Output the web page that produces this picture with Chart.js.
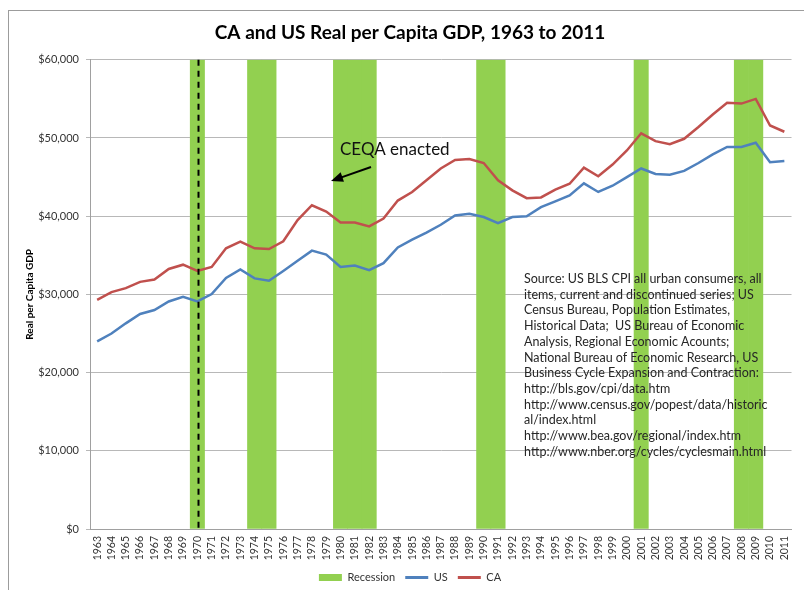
<!DOCTYPE html>
<html>
<head>
<meta charset="utf-8">
<script src="https://cdn.jsdelivr.net/npm/chart.js@4.4.1/dist/chart.umd.min.js"></script>
<style>
  html, body { margin: 0; padding: 0; background: #fff; }
</style>
</head>
<body>
<canvas id="gdp_chart" width="804" height="590"></canvas>
<script>
var years = ['1963','1964','1965','1966','1967','1968','1969','1970','1971','1972',
  '1973','1974','1975','1976','1977','1978','1979','1980','1981','1982','1983',
  '1984','1985','1986','1987','1988','1989','1990','1991','1992','1993','1994',
  '1995','1996','1997','1998','1999','2000','2001','2002','2003','2004','2005',
  '2006','2007','2008','2009','2010','2011'];

var usGdp = [24000, 25000, 26300, 27500, 28000, 29100, 29700, 29100, 30050, 32100,
  33200, 32050, 31750, 33000, 34300, 35600, 35100, 33500, 33700, 33100, 34000,
  36000, 37000, 37900, 38900, 40100, 40300, 39900, 39100, 39900, 40000, 41150,
  41900, 42650, 44200, 43100, 43900, 45000, 46100, 45400, 45300, 45800, 46800,
  47900, 48850, 48850, 49400, 46900, 47050];

var caGdp = [29300, 30300, 30800, 31600, 31900, 33250, 33800, 33000, 33500, 35900,
  36750, 35900, 35800, 36800, 39500, 41400, 40600, 39200, 39200, 38700, 39700,
  42000, 43100, 44600, 46100, 47200, 47300, 46800, 44600, 43300, 42300, 42400,
  43400, 44150, 46200, 45100, 46600, 48400, 50600, 49600, 49200, 49900, 51400,
  53000, 54500, 54400, 55000, 51600, 50800];

// recession years span the full height of the axis
var recessionYears = ['1970','1974','1975','1980','1981','1982','1990','1991','2001','2008','2009'];
var recessionTop = 60000;
var recession = years.map(function (y) {
  return recessionYears.indexOf(y) >= 0 ? recessionTop : null;
});

var ceqaYear = '1970';

var sourceLines = [
  'Source: US BLS CPI all urban consumers, all',
  'items, current and discontinued series; US',
  'Census Bureau, Population Estimates,',
  'Historical Data;  US Bureau of Economic',
  'Analysis, Regional Economic Acounts;',
  'National Bureau of Economic Research, US',
  'Business Cycle Expansion and Contraction:',
  'http://bls.gov/cpi/data.htm',
  'http://www.census.gov/popest/data/historic',
  'al/index.html',
  'http://www.bea.gov/regional/index.htm',
  'http://www.nber.org/cycles/cyclesmain.html'
];

var FONT = 'Lato, "Open Sans", sans-serif';

var framePlugin = {
  id: 'frame',
  beforeDraw: function (chart) {
    var ctx = chart.ctx;
    ctx.save();
    ctx.fillStyle = '#fff';
    ctx.fillRect(0, 0, chart.width, chart.height);
    ctx.strokeStyle = '#9c9c9c';
    ctx.lineWidth = 1;
    ctx.strokeRect(8.5, 10.5, chart.width + 20, chart.height + 20);
    ctx.restore();
  }
};

var notesPlugin = {
  id: 'notes',
  afterDraw: function (chart) {
    var ctx = chart.ctx, area = chart.chartArea;
    var xs = chart.scales.x;
    ctx.save();

    // CEQA dashed marker
    var px = Math.round(xs.getPixelForValue(years.indexOf(ceqaYear))) + 1.5;
    ctx.strokeStyle = '#000';
    ctx.lineWidth = 2;
    ctx.setLineDash([6, 5]);
    ctx.beginPath();
    ctx.moveTo(px, area.top);
    ctx.lineTo(px, area.bottom);
    ctx.stroke();
    ctx.setLineDash([]);

    // annotation
    ctx.fillStyle = '#111';
    ctx.font = '17px ' + FONT;
    ctx.textBaseline = 'middle';
    ctx.fillText('CEQA enacted', 340, 150);

    var x1 = 371, y1 = 167, x2 = 331, y2 = 181;
    var ang = Math.atan2(y2 - y1, x2 - x1);
    ctx.strokeStyle = '#000';
    ctx.lineWidth = 2;
    ctx.beginPath();
    ctx.moveTo(x1, y1);
    ctx.lineTo(x2 - 8 * Math.cos(ang), y2 - 8 * Math.sin(ang));
    ctx.stroke();
    ctx.beginPath();
    ctx.moveTo(x2, y2);
    ctx.lineTo(x2 - 12 * Math.cos(ang) + 5 * Math.sin(ang), y2 - 12 * Math.sin(ang) - 5 * Math.cos(ang));
    ctx.lineTo(x2 - 12 * Math.cos(ang) - 5 * Math.sin(ang), y2 - 12 * Math.sin(ang) + 5 * Math.cos(ang));
    ctx.closePath();
    ctx.fillStyle = '#000';
    ctx.fill();

    // source block
    ctx.fillStyle = '#262626';
    ctx.font = '12.5px ' + FONT;
    ctx.textBaseline = 'middle';
    for (var i = 0; i < sourceLines.length; i++) {
      ctx.fillText(sourceLines[i], 524, 279 + i * 15.7);
    }
    ctx.restore();
  }
};

new Chart(document.getElementById('gdp_chart'), {
  data: {
    labels: years,
    datasets: [{
      type: 'bar',
      label: 'Recession',
      data: recession,
      backgroundColor: '#92d050',
      borderWidth: 0,
      barPercentage: 1,
      categoryPercentage: 1,
      order: 2
    }, {
      type: 'line',
      label: 'US',
      data: usGdp,
      borderColor: '#4f81bd',
      backgroundColor: '#4f81bd',
      borderWidth: 2.5,
      pointRadius: 0,
      tension: 0,
      order: 1
    }, {
      type: 'line',
      label: 'CA',
      data: caGdp,
      borderColor: '#c0504d',
      backgroundColor: '#c0504d',
      borderWidth: 2.5,
      pointRadius: 0,
      tension: 0,
      order: 0
    }]
  },
  options: {
    responsive: false,
    animation: false,
    devicePixelRatio: 1,
    layout: { padding: { left: 20, right: 4, top: 0, bottom: -3 } },
    plugins: {
      tooltip: { enabled: false },
      title: {
        display: true,
        text: 'CA and US Real per Capita GDP, 1963 to 2011',
        color: '#000',
        font: { family: FONT, size: 19, weight: 'bold' },
        padding: { top: 21, bottom: 16 }
      },
      legend: {
        position: 'bottom',
        labels: {
          usePointStyle: true,
          pointStyleWidth: 23,
          boxHeight: 7,
          padding: 10,
          color: '#333',
          font: { family: FONT, size: 11 },
          generateLabels: function (chart) {
            return chart.data.datasets.map(function (ds, i) {
              var isBar = ds.type === 'bar';
              return {
                text: ds.label,
                fillStyle: ds.backgroundColor,
                strokeStyle: isBar ? 'rgba(0,0,0,0)' : ds.borderColor,
                lineWidth: isBar ? 0 : 3,
                pointStyle: isBar ? 'rect' : 'line',
                fontColor: '#333',
                datasetIndex: i
              };
            });
          }
        }
      }
    },
    scales: {
      x: {
        grid: { display: false, drawTicks: false },
        border: { color: '#a0a0a0' },
        ticks: {
          color: '#333',
          font: { family: FONT, size: 10.5 },
          minRotation: 90,
          maxRotation: 90,
          autoSkip: false,
          padding: 7
        },
        afterFit: function (s) { s.height = 33; }
      },
      y: {
        min: 0,
        max: 60000,
        ticks: {
          stepSize: 10000,
          color: '#333',
          font: { family: FONT, size: 11 },
          padding: 7,
          callback: function (v) { return '$' + v.toLocaleString('en-US'); }
        },
        grid: { color: '#b8b8b8', tickLength: 4 },
        border: { color: '#a0a0a0' },
        title: {
          display: true,
          text: 'Real per Capita GDP',
          color: '#000',
          font: { family: FONT, size: 10, weight: 'bold' },
          padding: { top: 4, bottom: 0 }
        },
        afterFit: function (s) { s.width = 70; }
      }
    }
  },
  plugins: [framePlugin, notesPlugin]
});
</script>
</body>
</html>
